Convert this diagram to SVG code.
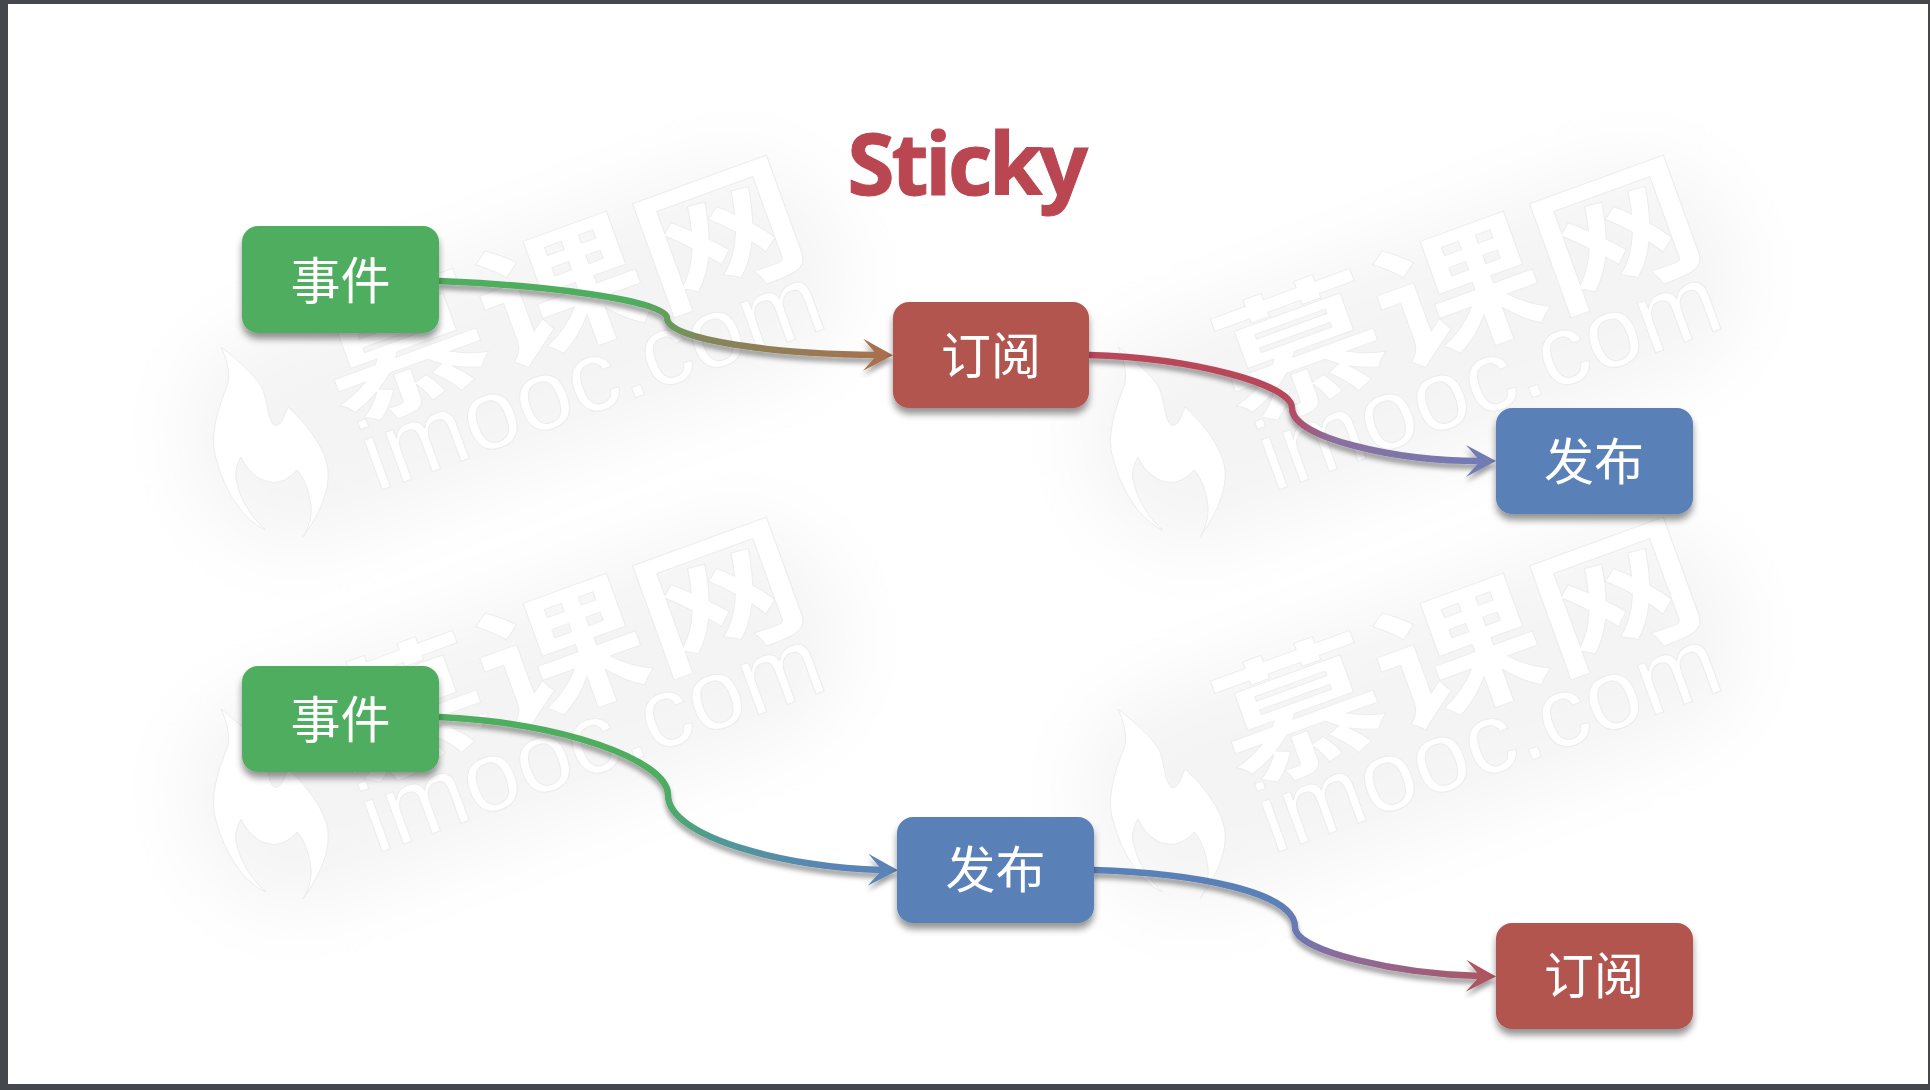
<svg xmlns="http://www.w3.org/2000/svg" width="1930" height="1090" viewBox="0 0 1930 1090">
<style>
.box{stroke:none;filter:url(#ns)}
.lbl{font-family:"Noto Sans CJK SC","Noto Sans",sans-serif;font-size:50px;fill:#fff;text-anchor:middle}
.g{fill:#4fad5e}.r{fill:#b25450}.b{fill:#5a80b8}
.c{fill:none;stroke-width:6.5;stroke-linecap:butt}
.wm{fill:#fff;stroke:#ececec;stroke-width:1}
</style>
<defs>
<filter id="ns" x="-20%" y="-20%" width="140%" height="150%"><feDropShadow dx="0" dy="6" stdDeviation="3.5" flood-color="#000" flood-opacity=".42"/></filter>
<filter id="ls" x="-10%" y="-20%" width="120%" height="150%"><feDropShadow dx="0" dy="5" stdDeviation="2.5" flood-color="#000" flood-opacity=".38"/></filter>
<filter id="bl" x="-30%" y="-60%" width="160%" height="220%"><feGaussianBlur stdDeviation="36"/></filter>
<linearGradient id="g1" gradientUnits="userSpaceOnUse" x1="439" y1="0" x2="892" y2="0"><stop offset="0" stop-color="#4fad5e"/><stop offset=".44" stop-color="#4fad5e"/><stop offset=".58" stop-color="#83865a"/><stop offset="1" stop-color="#a8704f"/></linearGradient>
<linearGradient id="g2" gradientUnits="userSpaceOnUse" x1="1089" y1="0" x2="1495" y2="0"><stop offset="0" stop-color="#b9465a"/><stop offset=".48" stop-color="#b9465a"/><stop offset=".6" stop-color="#8a6f9f"/><stop offset="1" stop-color="#6f7db5"/></linearGradient>
<linearGradient id="g3" gradientUnits="userSpaceOnUse" x1="439" y1="0" x2="897" y2="0"><stop offset="0" stop-color="#4fad5e"/><stop offset=".48" stop-color="#4fad5e"/><stop offset=".6" stop-color="#4f9a94"/><stop offset=".85" stop-color="#5a84b5"/><stop offset="1" stop-color="#5a84b5"/></linearGradient>
<linearGradient id="g4" gradientUnits="userSpaceOnUse" x1="1093" y1="0" x2="1495" y2="0"><stop offset="0" stop-color="#5a80b8"/><stop offset=".46" stop-color="#5a80b8"/><stop offset=".6" stop-color="#8a6c9c"/><stop offset="1" stop-color="#ae5560"/></linearGradient>
<marker id="a1" markerUnits="userSpaceOnUse" markerWidth="32" markerHeight="40" refX="14" refY="20" orient="auto"><path d="M0,4 L30,20 L0,36 L14,20Z" fill="#a8704f"/></marker>
<marker id="a2" markerUnits="userSpaceOnUse" markerWidth="32" markerHeight="40" refX="14" refY="20" orient="auto"><path d="M0,4 L30,20 L0,36 L14,20Z" fill="#6f7db5"/></marker>
<marker id="a3" markerUnits="userSpaceOnUse" markerWidth="32" markerHeight="40" refX="14" refY="20" orient="auto"><path d="M0,4 L30,20 L0,36 L14,20Z" fill="#5a84b5"/></marker>
<marker id="a4" markerUnits="userSpaceOnUse" markerWidth="32" markerHeight="40" refX="14" refY="20" orient="auto"><path d="M0,4 L30,20 L0,36 L14,20Z" fill="#ae5560"/></marker>
<g id="tile">
<rect x="175" y="245" width="680" height="220" rx="100" transform="rotate(-20 515 355)" fill="#f4f4f4" filter="url(#bl)"/>
<path class="wm" d="M221,347C240,362 258,378 263,390C268,405 268,420 274,425C281,428 284,416 288,407C308,425 326,450 328,470C330,495 315,520 303,537C310,525 313,512 310,500C308,488 303,476 297,470C290,478 280,484 270,482C256,480 246,468 241,457C236,466 234,475 237,483C241,502 254,520 266,530C245,522 222,490 214,450C211,425 222,400 228,383C230,370 226,358 221,347Z"/>
<text class="wm" transform="translate(342,426) rotate(-20) scale(1,.82)" font-family="'Noto Sans CJK SC',sans-serif" font-weight="700" font-size="168">慕课网</text>
<text class="wm" transform="translate(376,492) rotate(-20)" font-family="'Liberation Sans',sans-serif" font-size="100">imooc.com</text>
</g>
</defs>
<rect width="1930" height="1090" fill="#44484c"/>
<rect x="8" y="4" width="1920" height="1080" fill="#fff"/>
<g id="watermarks">
<use href="#tile"/>
<use href="#tile" x="897"/>
<use href="#tile" y="362"/>
<use href="#tile" x="897" y="362"/>
</g>
<text id="title" x="966" y="195" text-anchor="middle" letter-spacing="-3.3" stroke="#b94651" stroke-width="1" font-family="'Noto Sans','Open Sans',sans-serif" font-weight="700" font-size="86" fill="#b94651">Sticky</text>
<g id="connectors">
<path class="c" filter="url(#ls)" stroke="url(#g1)" marker-end="url(#a1)" d="M439,281C540,285 667,300 667,318C667,341 780,354 877,355"/>
<path class="c" filter="url(#ls)" stroke="url(#g2)" marker-end="url(#a2)" d="M1089,355C1195,358 1292,385 1292,408C1292,438 1395,461 1480,461"/>
<path class="c" filter="url(#ls)" stroke="url(#g3)" marker-end="url(#a3)" d="M439,717C560,722 668,760 668,795C668,838 790,868 882,870"/>
<path class="c" filter="url(#ls)" stroke="url(#g4)" marker-end="url(#a4)" d="M1093,870C1195,873 1295,892 1295,927C1295,952 1400,974 1480,976"/>
</g>
<g id="n1"><rect class="box g" x="242" y="226" width="197" height="107" rx="16"/><text class="lbl" x="340.500" y="299" lang="zh-CN">事件</text></g>
<g id="n2"><rect class="box r" x="893" y="302" width="196" height="106" rx="16"/><text class="lbl" x="991" y="374" lang="zh-CN">订阅</text></g>
<g id="n3"><rect class="box b" x="1496" y="408" width="197" height="106" rx="16"/><text class="lbl" x="1594" y="480" lang="zh-CN">发布</text></g>
<g id="n4"><rect class="box g" x="242" y="666" width="197" height="106" rx="16"/><text class="lbl" x="340.500" y="738" lang="zh-CN">事件</text></g>
<g id="n5"><rect class="box b" x="897" y="817" width="197" height="106" rx="16"/><text class="lbl" x="995.500" y="888" lang="zh-CN">发布</text></g>
<g id="n6"><rect class="box r" x="1496" y="923" width="197" height="106" rx="16"/><text class="lbl" x="1594" y="994" lang="zh-CN">订阅</text></g>
</svg>
